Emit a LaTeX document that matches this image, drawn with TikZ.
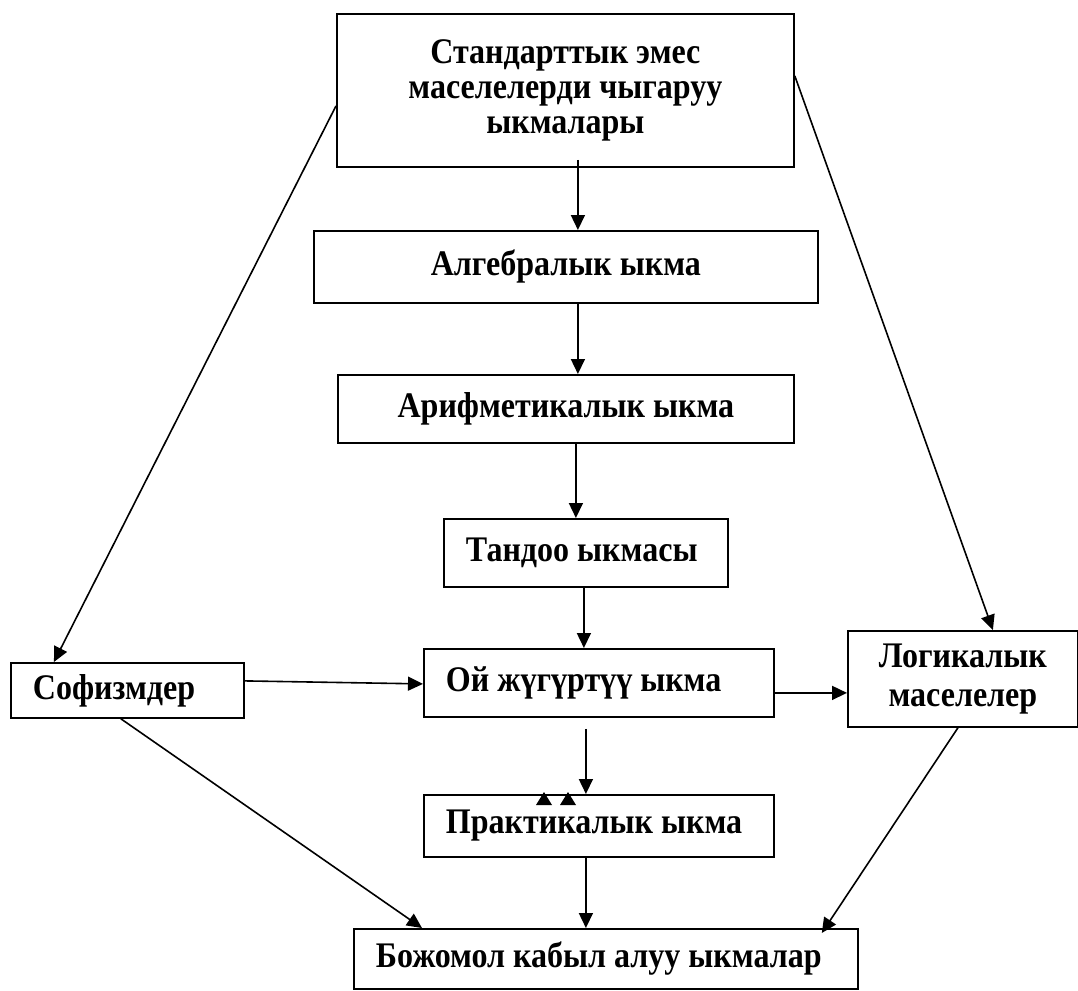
\documentclass[tikz,border=0pt]{standalone}
\usepackage{fontspec}
\setmainfont{Liberation Serif}
\newfontfamily\diagfont[FakeStretch=0.89]{Liberation Serif}
\usetikzlibrary{arrows.meta}
\tikzset{
  box/.style={draw, line width=1.8pt, inner sep=0pt, anchor=north west,
    font=\diagfont\bfseries\fontsize{36}{35}\selectfont},
  cbox/.style={box, align=center},
  lbox/.style={box, inner xsep=22pt},
  arr/.style={line width=1.6pt, -{Triangle[length=15pt,width=14pt]}},
}
\begin{document}
\begin{tikzpicture}[x=1pt,y=-1pt]
\useasboundingbox (0,0) rectangle (1078,990);
\node[cbox, minimum width=457pt, minimum height=153pt] (top) at (336,13)
  {Стандарттык эмес\\маселелерди чыгаруу\\ыкмалары};
\node[cbox, minimum width=504pt, minimum height=72pt] (alg) at (313,230) {Алгебралык ыкма};
\node[cbox, minimum width=456pt, minimum height=68pt] (ari) at (337,374) {Арифметикалык ыкма};
\node[lbox, minimum height=68pt] (tan) at (443,518) {\makebox[240pt][l]{Тандоо ыкмасы}};
\node[lbox, minimum height=68pt] (oy) at (423,648) {\makebox[306pt][l]{Ой жүгүртүү ыкма}};
\node[cbox, minimum width=230pt, minimum height=96pt, font=\diagfont\bfseries\fontsize{36}{39}\selectfont] (log) at (847,630) {Логикалык\\маселелер};
\node[lbox, minimum height=55pt] (sof) at (10,662) {\makebox[189pt][l]{Софизмдер}};
\node[lbox, minimum height=62pt] (pra) at (423,794) {\makebox[306pt][l]{Практикалык ыкма}};
\node[lbox, minimum height=60pt] (boz) at (353,928) {\makebox[460pt][l]{Божомол кабыл алуу ыкмалар}};

\draw[arr] ([xshift=12.5pt,yshift=8pt]top.south) -- ([xshift=12pt]alg.north);
\draw[arr] ([xshift=12pt]alg.south) -- ([xshift=12pt]ari.north);
\draw[arr] ([xshift=10pt]ari.south) -- ([xshift=-10pt]tan.north);
\draw[arr] ([xshift=-2pt]tan.south) -- ([xshift=-15pt]oy.north);
\draw[arr] ([xshift=-13pt,yshift=-11pt]oy.south) -- ([xshift=-13pt]pra.north);
\draw[arr] ([xshift=-13pt]pra.south) -- ([xshift=-20pt]boz.north);
\draw[arr] ([yshift=9.5pt]sof.east) -- ([yshift=-1pt]oy.west);
\draw[arr] ([yshift=-10pt]oy.east) -- ([yshift=-14pt]log.west);
\draw[arr] ([yshift=-15.5pt]top.west) -- ([xshift=-73.5pt]sof.north);
\draw[arr] ([yshift=14.5pt]top.east) -- ([xshift=30pt]log.north);
\draw[arr] ([xshift=-6.5pt]sof.south) -- ([xshift=69pt]boz.north west);
\draw[arr] ([xshift=-5pt]log.south) -- ([xshift=-37pt,yshift=-5pt]boz.north east);

\fill (536,805) -- (544,792) -- (552,805) -- cycle;
\fill (560,805) -- (568,792) -- (576,805) -- cycle;
\end{tikzpicture}
\end{document}
